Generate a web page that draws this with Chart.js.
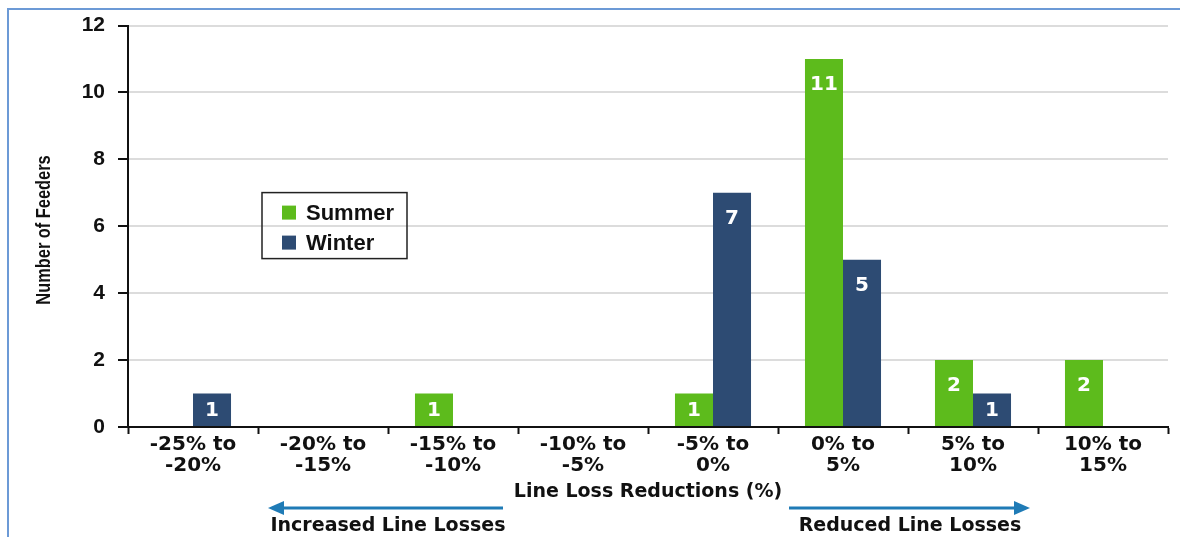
<!DOCTYPE html>
<html lang="en">
<head>
  <meta charset="UTF-8" />
  <title>Line Loss Reductions</title>
  <script src="https://cdn.jsdelivr.net/npm/chart.js"></script>
  <style>
    html, body { margin: 0; padding: 0; background: #fff; overflow: hidden; }
    #wrap { position: relative; width: 1180px; height: 537px; }
    #frame { position: absolute; left: 7px; top: 8px; width: 1200px; height: 600px; border: 2px solid #6c9ad6; }
    #chart { position: absolute; left: 0; top: 0; }
  </style>
</head>
<body>
  <div id="wrap">
    <div id="frame"></div>
    <canvas id="chart" width="1180" height="537"></canvas>
  </div>

  <script>
    const categories = [
      ['-25% to', '-20%'], ['-20% to', '-15%'], ['-15% to', '-10%'], ['-10% to', '-5%'],
      ['-5% to', '0%'], ['0% to', '5%'], ['5% to', '10%'], ['10% to', '15%']
    ];
    const summerValues = [0, 0, 1, 0, 1, 11, 2, 2];
    const winterValues = [1, 0, 0, 0, 7, 5, 1, 0];
    const yTicks = [0, 2, 4, 6, 8, 10, 12];

    const GREEN = '#5dbb1c';
    const BLUE = '#2d4b73';
    const ARROW = '#1f7bb6';
    const labelFont = '"DejaVu Sans", Verdana, sans-serif';
    const arialFont = '"Liberation Sans", Arial, sans-serif';

    // white value labels near the top of each bar
    const valueLabels = {
      id: 'valueLabels',
      afterDatasetsDraw(chart) {
        const ctx = chart.ctx;
        ctx.save();
        ctx.fillStyle = '#fff';
        ctx.font = 'bold 20px ' + labelFont;
        ctx.textAlign = 'center';
        ctx.textBaseline = 'middle';
        chart.data.datasets.forEach((ds, i) => {
          chart.getDatasetMeta(i).data.forEach((bar, j) => {
            const v = ds.data[j];
            if (!v) return;
            const h = bar.base - bar.y;
            ctx.fillText(String(v), bar.x, bar.y + Math.min(26, h / 2 + 1));
          });
        });
        ctx.restore();
      }
    };

    // y title (condensed), boxed legend and the two direction arrows under the axis
    const extras = {
      id: 'extras',
      afterDraw(chart) {
        const ctx = chart.ctx;
        const area = chart.chartArea;
        const x = chart.scales.x;
        ctx.save();

        ctx.save();
        ctx.translate(44, 230);
        ctx.rotate(-Math.PI / 2);
        ctx.scale(0.78, 1);
        ctx.fillStyle = '#111';
        ctx.font = 'bold 21px ' + arialFont;
        ctx.textAlign = 'center';
        ctx.textBaseline = 'middle';
        ctx.fillText('Number of Feeders', 0, 0);
        ctx.restore();

        // legend box
        const lx = area.left + 134, ly = area.top + 167;
        ctx.strokeStyle = '#222';
        ctx.lineWidth = 1.5;
        ctx.strokeRect(lx, ly, 145, 66);
        ctx.font = 'bold 22px ' + arialFont;
        ctx.textBaseline = 'middle';
        ctx.textAlign = 'left';
        chart.data.datasets.forEach((ds, i) => {
          const cy = ly + 20 + i * 30;
          ctx.fillStyle = ds.backgroundColor;
          ctx.fillRect(lx + 20, cy - 7, 14, 14);
          ctx.fillStyle = '#111';
          ctx.fillText(ds.label, lx + 44, cy + 1);
        });

        // arrows
        const boundary = i => (x.getPixelForValue(i) + x.getPixelForValue(i + 1)) / 2;
        const ay = 508;
        function arrow(x1, x2) {
          const dir = Math.sign(x2 - x1);
          ctx.strokeStyle = ARROW;
          ctx.fillStyle = ARROW;
          ctx.lineWidth = 3;
          ctx.beginPath();
          ctx.moveTo(x1, ay);
          ctx.lineTo(x2 - dir * 12, ay);
          ctx.stroke();
          ctx.beginPath();
          ctx.moveTo(x2, ay);
          ctx.lineTo(x2 - dir * 16, ay - 7);
          ctx.lineTo(x2 - dir * 16, ay + 7);
          ctx.closePath();
          ctx.fill();
        }
        const leftMid = boundary(1);
        const rightMid = boundary(5);
        arrow(leftMid + 115, leftMid - 120);
        arrow(rightMid - 119, rightMid + 122);

        ctx.fillStyle = '#111';
        ctx.font = 'bold 19px ' + labelFont;
        ctx.textAlign = 'center';
        ctx.fillText('Increased Line Losses', leftMid, 526);
        ctx.fillText('Reduced Line Losses', rightMid + 2, 526);
        ctx.restore();
      }
    };

    new Chart(document.getElementById('chart'), {
      type: 'bar',
      data: {
        labels: categories,
        datasets: [
          { label: 'Summer', data: summerValues, backgroundColor: GREEN },
          { label: 'Winter', data: winterValues, backgroundColor: BLUE }
        ]
      },
      options: {
        responsive: false,
        animation: false,
        layout: { padding: { left: 0, right: 12, top: 25, bottom: 34 } },
        datasets: { bar: { categoryPercentage: 0.585, barPercentage: 1.0 } },
        plugins: { legend: { display: false }, tooltip: { enabled: false } },
        scales: {
          x: {
            afterFit(scale) { scale.height = 76; },
            border: { color: '#111', width: 2 },
            grid: { offset: true, drawOnChartArea: false, drawTicks: true, tickLength: 7, tickColor: '#111', tickWidth: 2 },
            ticks: { color: '#111', padding: 0, maxRotation: 0, autoSkip: false, font: { family: labelFont, size: 20, weight: 'bold', lineHeight: 1.05 } },
            title: { display: true, text: 'Line Loss Reductions (%)', color: '#111', padding: { top: 0, bottom: 0 }, font: { family: labelFont, size: 19, weight: 'bold', lineHeight: 1.2 } }
          },
          y: {
            min: 0, max: 12,
            afterFit(scale) { scale.width = 128; },
            afterBuildTicks(scale) { scale.ticks = yTicks.map(v => ({ value: v })); },
            border: { color: '#111', width: 2 },
            grid: { color: '#dcdcdc', lineWidth: 2, tickColor: '#111', tickLength: 10, tickWidth: 2 },
            ticks: { color: '#111', padding: 13, font: { family: arialFont, size: 21, weight: 'bold' } }
          }
        }
      },
      plugins: [valueLabels, extras]
    });
  </script>
</body>
</html>
